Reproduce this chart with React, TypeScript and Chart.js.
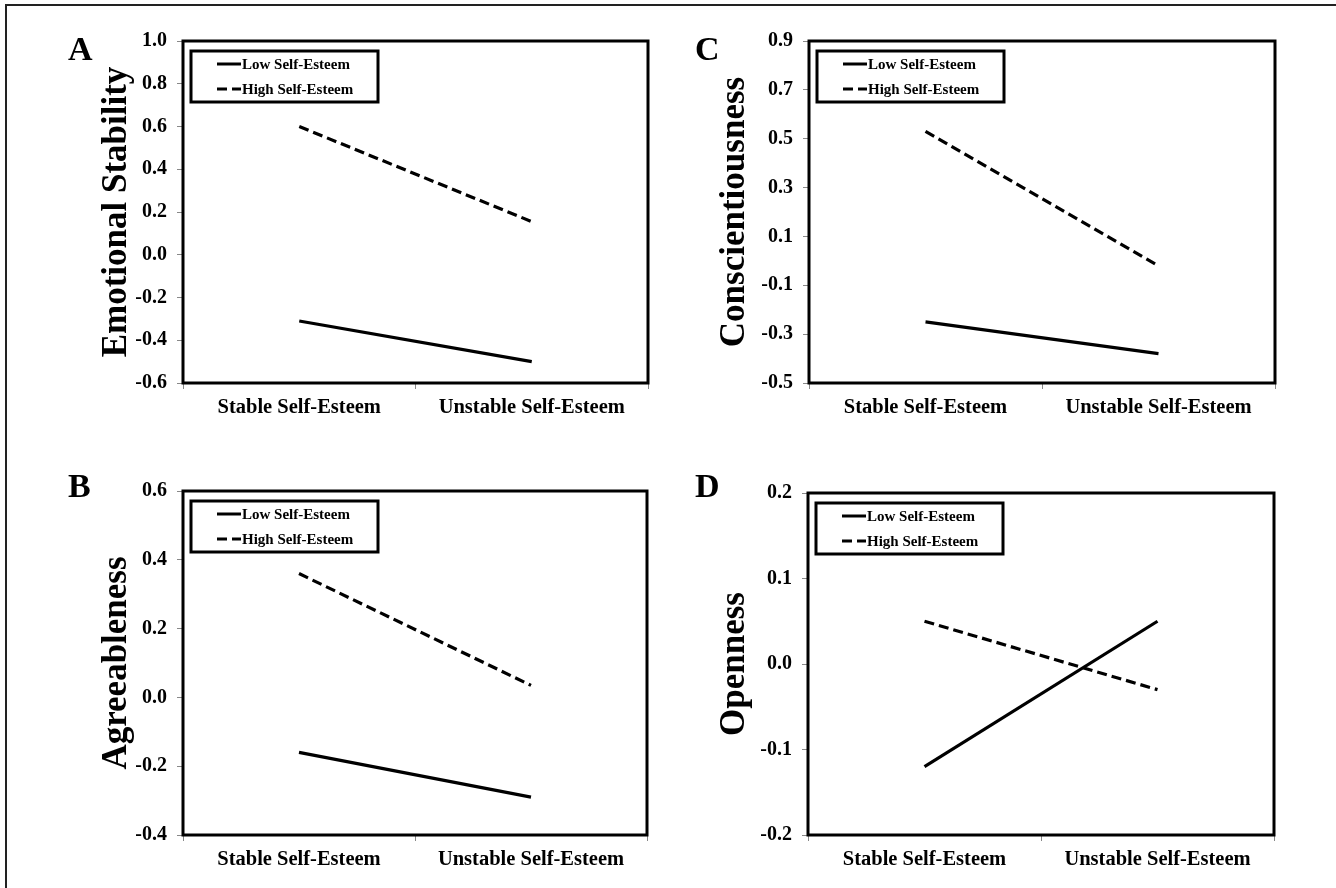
import React, { useEffect, useRef } from 'react';
import { Chart, registerables } from 'chart.js';

Chart.register(...registerables);

// ---- data ----
const categories = ['Stable Self-Esteem', 'Unstable Self-Esteem'];
const seriesNames = ['Low Self-Esteem', 'High Self-Esteem'];

const emotionalLow = [-0.31, -0.5];
const emotionalHigh = [0.6, 0.155];
const emotionalTicks = [-0.6, -0.4, -0.2, 0.0, 0.2, 0.4, 0.6, 0.8, 1.0];

const agreeLow = [-0.16, -0.29];
const agreeHigh = [0.36, 0.035];
const agreeTicks = [-0.4, -0.2, 0.0, 0.2, 0.4, 0.6];

const conscLow = [-0.25, -0.38];
const conscHigh = [0.53, -0.02];
const conscTicks = [-0.5, -0.3, -0.1, 0.1, 0.3, 0.5, 0.7, 0.9];

const openLow = [-0.12, 0.05];
const openHigh = [0.05, -0.03];
const openTicks = [-0.2, -0.1, 0.0, 0.1, 0.2];

const FONT = "'Liberation Serif', 'Times New Roman', Times, serif";
const CW = 668;
const CH = 444;

type PanelCfg = {
  letter: string;
  title: string;
  low: number[];
  high: number[];
  ticks: number[];
  left: number;
  top: number;
  area: { l: number; r: number; t: number; b: number };
  scaleLeft: number;
  letterPos: [number, number];
};

const panels: PanelCfg[] = [
  { letter: 'A', title: 'Emotional Stability', low: emotionalLow, high: emotionalHigh, ticks: emotionalTicks,
    left: 0, top: 0, area: { l: 183, r: 648, t: 41, b: 383 }, scaleLeft: 92, letterPos: [68, 60] },
  { letter: 'C', title: 'Conscientiousness', low: conscLow, high: conscHigh, ticks: conscTicks,
    left: 668, top: 0, area: { l: 141, r: 607, t: 41, b: 383 }, scaleLeft: 42, letterPos: [27, 60] },
  { letter: 'B', title: 'Agreeableness', low: agreeLow, high: agreeHigh, ticks: agreeTicks,
    left: 0, top: 444, area: { l: 183, r: 647, t: 47, b: 391 }, scaleLeft: 92, letterPos: [68, 53] },
  { letter: 'D', title: 'Openness', low: openLow, high: openHigh, ticks: openTicks,
    left: 668, top: 444, area: { l: 140, r: 606, t: 49, b: 391 }, scaleLeft: 42, letterPos: [27, 53] },
];

function Panel({ p }: { p: PanelCfg }) {
  const ref = useRef<HTMLCanvasElement | null>(null);
  useEffect(() => {
    if (!ref.current) return;
    const xHeight = 50;

    const decor = {
      id: 'decor',
      afterDraw(chart: any) {
        const ctx = chart.ctx;
        const a = chart.chartArea;
        ctx.save();
        // frame
        ctx.strokeStyle = '#000';
        ctx.lineWidth = 3;
        ctx.setLineDash([]);
        ctx.strokeRect(a.left, a.top, a.right - a.left, a.bottom - a.top);
        // legend box
        const bx = a.left + 8;
        const by = a.top + 10;
        const bw = 187;
        const bh = 51;
        ctx.lineWidth = 3;
        ctx.strokeRect(bx, by, bw, bh);
        ctx.font = `bold 15px ${FONT}`;
        ctx.fillStyle = '#000';
        ctx.textBaseline = 'middle';
        ctx.textAlign = 'left';
        chart.data.datasets.forEach((ds: any, i: number) => {
          const yy = by + 13 + i * 25;
          ctx.beginPath();
          ctx.lineWidth = 3;
          ctx.setLineDash(ds.borderDash || []);
          ctx.moveTo(bx + 26, yy);
          ctx.lineTo(bx + 50, yy);
          ctx.stroke();
          ctx.setLineDash([]);
          ctx.fillText(ds.label, bx + 51, yy + 1);
        });
        // panel letter
        ctx.font = `bold 34px ${FONT}`;
        ctx.textBaseline = 'alphabetic';
        ctx.fillText(p.letter, p.letterPos[0], p.letterPos[1]);
        ctx.restore();
      },
    };

    const chart = new Chart(ref.current, {
      type: 'line',
      data: {
        labels: categories,
        datasets: [
          { label: seriesNames[0], data: p.low, borderColor: '#000', borderWidth: 3.2, pointRadius: 0, fill: false, tension: 0 },
          { label: seriesNames[1], data: p.high, borderColor: '#000', borderWidth: 3.2, borderDash: [10, 5], pointRadius: 0, fill: false, tension: 0 },
        ],
      },
      options: {
        animation: false,
        responsive: false,
        events: [],
        layout: {
          padding: {
            left: p.scaleLeft,
            top: p.area.t,
            right: CW - p.area.r,
            bottom: CH - p.area.b - xHeight,
          },
        },
        plugins: { legend: { display: false }, tooltip: { enabled: false } },
        scales: {
          x: {
            type: 'category',
            offset: true,
            grid: { offset: true, drawOnChartArea: false, drawTicks: true, tickLength: 6, color: '#888', lineWidth: 1 },
            border: { display: false },
            ticks: { font: { family: FONT, size: 20.5, weight: 'bold' }, color: '#000', padding: 6, maxRotation: 0, autoSkip: false },
            afterFit: (s: any) => {
              s.height = xHeight;
              s.paddingLeft = 0; s.paddingRight = 0; s.paddingTop = 0; s.paddingBottom = 0;
            },
          },
          y: {
            type: 'linear',
            min: p.ticks[0],
            max: p.ticks[p.ticks.length - 1],
            afterBuildTicks: (s: any) => {
              s.ticks = p.ticks.map((v) => ({ value: v }));
            },
            grid: { drawOnChartArea: false, drawTicks: true, tickLength: 6, color: '#888', lineWidth: 1 },
            border: { display: false },
            ticks: {
              font: { family: FONT, size: 20, weight: 'bold' },
              color: '#000',
              padding: 10,
              callback: (v: any) => Number(v).toFixed(1),
            },
            title: {
              display: true,
              text: p.title,
              font: { family: FONT, size: 35, weight: 'bold' },
              color: '#000',
              padding: { top: 4, bottom: 4 },
            },
            afterFit: (s: any) => {
              s.width = p.area.l - p.scaleLeft;
              s.paddingLeft = 0; s.paddingRight = 0; s.paddingTop = 0; s.paddingBottom = 0;
            },
          },
        },
      },
      plugins: [decor],
    } as any);
    return () => chart.destroy();
  }, []);
  return (
    <canvas
      ref={ref}
      width={CW}
      height={CH}
      style={{ position: 'absolute', left: p.left, top: p.top, width: CW, height: CH }}
    />
  );
}

export default function App() {
  return (
    <div style={{ position: 'absolute', left: 0, top: 0, width: 1336, height: 888, overflow: 'hidden', background: '#fff' }}>
      <div
        style={{
          position: 'absolute',
          left: 5,
          top: 4,
          width: 1400,
          height: 1000,
          borderLeft: '2px solid #222',
          borderTop: '2px solid #222',
        }}
      />
      {panels.map((p) => (
        <Panel key={p.letter} p={p} />
      ))}
    </div>
  );
}
